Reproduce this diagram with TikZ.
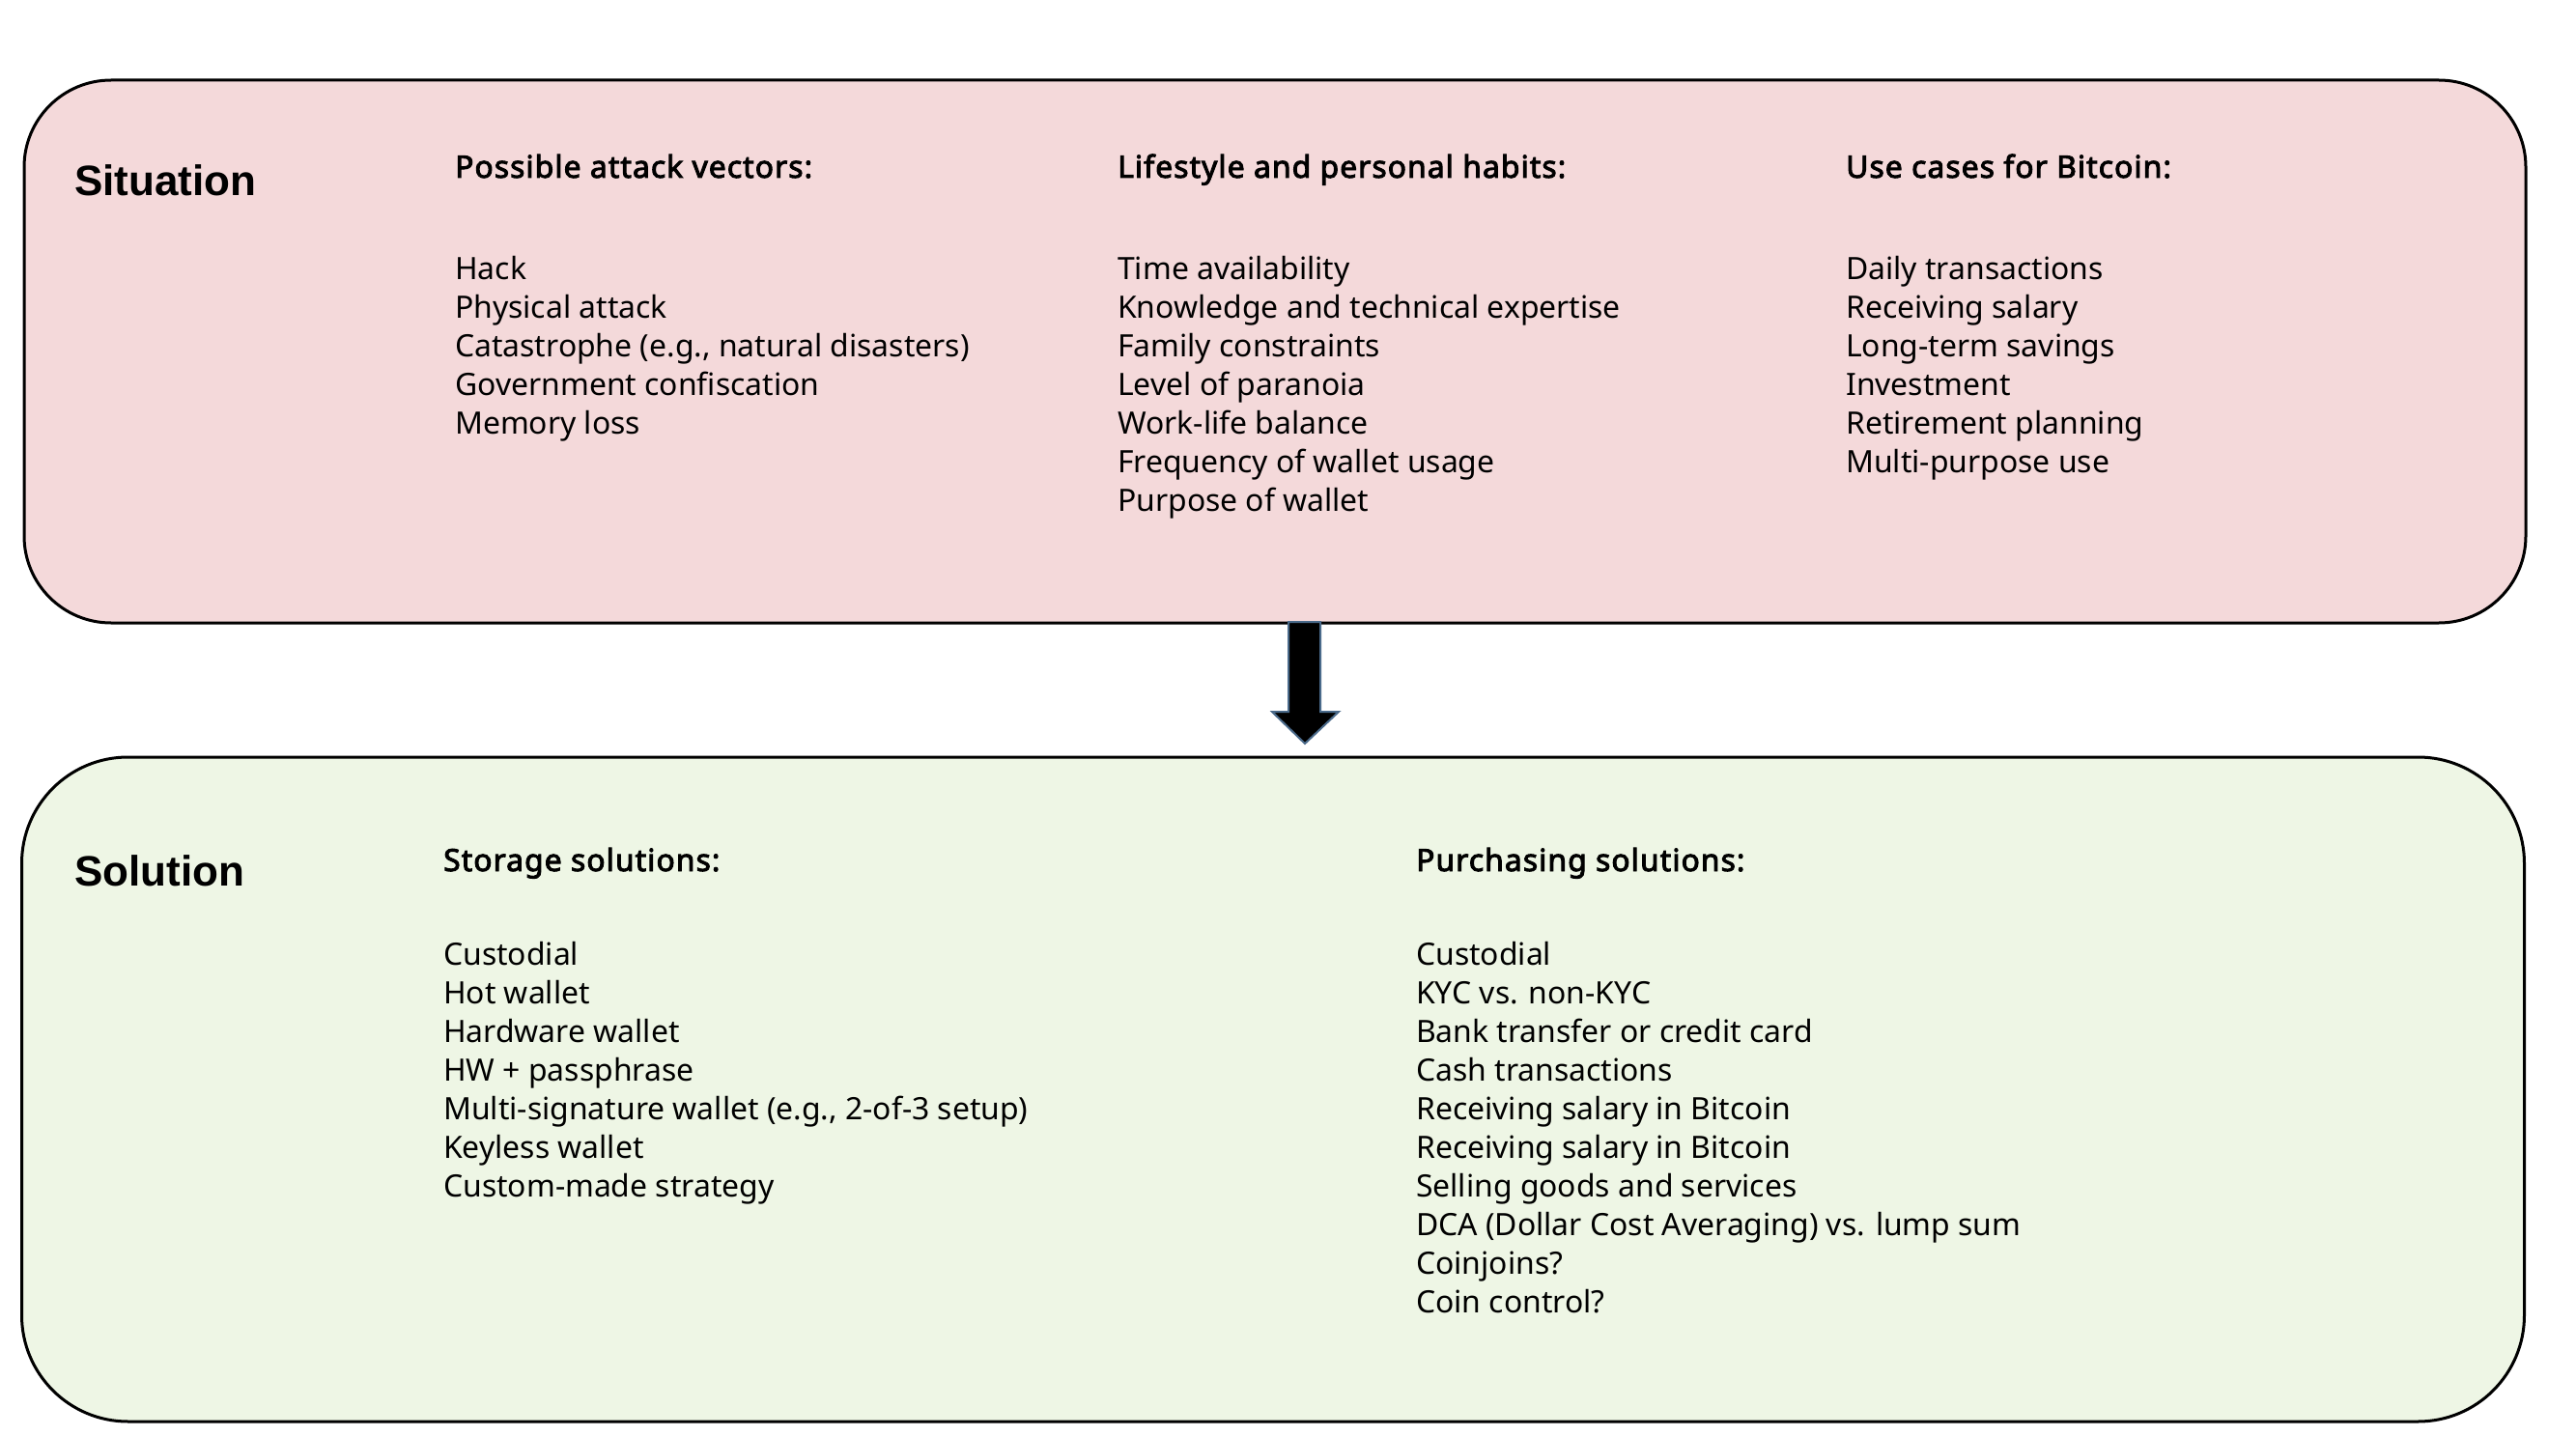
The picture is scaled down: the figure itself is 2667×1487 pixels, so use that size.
\documentclass[tikz,border=0pt]{standalone}
\usepackage{fontspec}
\setmainfont{Noto Sans}
\newfontfamily\headfont{Noto Sans}[FakeBold=3,LetterSpace=3.4]
\newfontfamily\titlefont{Liberation Sans}
\definecolor{pinkbg}{HTML}{F4D9DA}
\definecolor{greenbg}{HTML}{EEF6E5}
\definecolor{arrowedge}{HTML}{4A6A8A}
\begin{document}
\begin{tikzpicture}[x=1pt,y=-1pt,
  panel/.style={draw=black, line width=3pt, inner sep=0pt},
  paneltitle/.style={anchor=base west, inner sep=0pt, font=\titlefont\fontsize{44}{50}\selectfont\bfseries},
  head/.style={anchor=base west, inner sep=0pt, font=\headfont\fontsize{31.8}{40}\selectfont},
  items/.style={anchor=north west, inner sep=0pt, align=left, font=\fontsize{31.9}{40}\selectfont}]
\useasboundingbox (0,0) rectangle (2667,1487);
\fill[white] (0,0) rectangle (2667,1487);
% panels
\node[panel, rounded corners=90pt, fill=pinkbg, minimum width=2590pt, minimum height=562pt] (sit) at (1320,364) {};
\node[panel, rounded corners=110pt, fill=greenbg, minimum width=2591pt, minimum height=688pt] (sol) at (1318,1128) {};
% arrow between panels
\coordinate (atop) at (1351,644);
\draw[arrowedge, line width=2pt, fill=black, line join=miter]
  ([xshift=-17pt]atop) -- ([xshift=16pt]atop) -- ([xshift=16pt,yshift=-93pt]atop)
  -- ([xshift=35pt,yshift=-93pt]atop) -- ([yshift=-126pt]atop)
  -- ([xshift=-34pt,yshift=-93pt]atop) -- ([xshift=-17pt,yshift=-93pt]atop) -- cycle;
% Situation
\node[paneltitle] (sitt) at (77,203) {Situation};
\node[head] (h1) at (471,184) {Possible attack vectors:};
\node[head] (h2) at (1157,184) {Lifestyle and personal habits:};
\node[head] (h3) at (1911,184) {Use cases for Bitcoin:};
\node[items] (l1) at (471,261) {\strut Hack\\Physical attack\\Catastrophe (e.g., natural disasters)\\Government confiscation\\Memory loss};
\node[items] (l2) at (1157,261) {\strut Time availability\\Knowledge and technical expertise\\Family constraints\\Level of paranoia\\Work-life balance\\Frequency of wallet usage\\Purpose of wallet};
\node[items] (l3) at (1911,261) {\strut Daily transactions\\Receiving salary\\Long-term savings\\Investment\\Retirement planning\\Multi-purpose use};
% Solution
\node[paneltitle] (solt) at (77,917) {Solution};
\node[head] (h4) at (459,902) {Storage solutions:};
\node[head] (h5) at (1466,902) {Purchasing solutions:};
\node[items] (l4) at (459,971) {\strut Custodial\\Hot wallet\\Hardware wallet\\HW + passphrase\\Multi-signature wallet (e.g., 2-of-3 setup)\\Keyless wallet\\Custom-made strategy};
\node[items] (l5) at (1466,971) {\strut Custodial\\KYC vs. non-KYC\\Bank transfer or credit card\\Cash transactions\\Receiving salary in Bitcoin\\Receiving salary in Bitcoin\\Selling goods and services\\DCA (Dollar Cost Averaging) vs. lump sum\\Coinjoins?\\Coin control?};
\end{tikzpicture}
\end{document}
